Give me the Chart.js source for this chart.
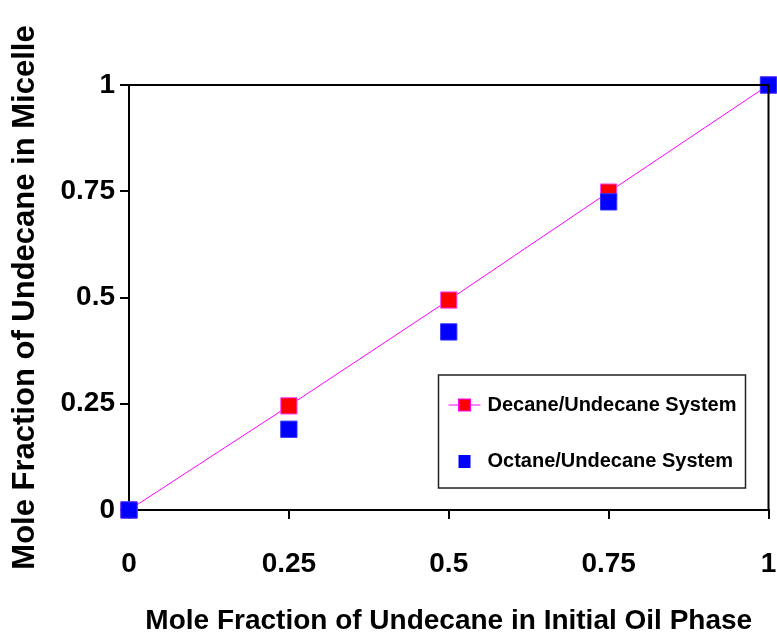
<!DOCTYPE html>
<html>
<head>
<meta charset="utf-8">
<script src="https://cdn.jsdelivr.net/npm/chart.js@4/dist/chart.umd.min.js"></script>
<style>
  html, body { margin: 0; padding: 0; background: #fff; overflow: hidden; }
  #wrap { width: 781px; height: 636px; }
</style>
</head>
<body>
<div id="wrap"><canvas id="chart"></canvas></div>
<script>
// data
const xValues = [0, 0.25, 0.5, 0.75, 1];
const decaneValues = [0, 0.245, 0.494, 0.748, 1];
const octaneValues = [0, 0.19, 0.419, 0.725, 1];
const tickValues = [0, 0.25, 0.5, 0.75, 1];
const tickLabels = ['0', '0.25', '0.5', '0.75', '1'];
const seriesNames = ['Decane/Undecane System', 'Octane/Undecane System'];

const FONT = "'Liberation Sans', Arial, sans-serif";

function toPoints(ys) {
  return xValues.map((x, i) => ({ x: x, y: ys[i] }));
}

function tickLabel(value) {
  const i = tickValues.indexOf(value);
  return i >= 0 ? tickLabels[i] : '';
}

// top and right edge of the box + the inside legend
const frameAndLegend = {
  id: 'frameAndLegend',
  afterDraw(chart) {
    const ctx = chart.ctx;
    const a = chart.chartArea;
    ctx.save();
    ctx.strokeStyle = '#000';
    ctx.lineWidth = 2;
    ctx.beginPath();
    ctx.moveTo(a.left - 9, a.top);
    ctx.lineTo(a.right, a.top);
    ctx.lineTo(a.right, a.bottom);
    ctx.stroke();

    // legend box
    const lx = a.right - 330, ly = a.bottom - 135, lw = 307, lh = 113;
    ctx.lineWidth = 1.5;
    ctx.strokeStyle = '#222';
    ctx.strokeRect(lx, ly, lw, lh);

    const row1 = ly + 30, row2 = ly + 86;
    const sx = lx + 26;
    ctx.strokeStyle = '#ff00ff';
    ctx.lineWidth = 1;
    ctx.beginPath();
    ctx.moveTo(lx + 10, row1);
    ctx.lineTo(lx + 42, row1);
    ctx.stroke();
    ctx.fillStyle = '#ff0000';
    ctx.fillRect(sx - 6, row1 - 6, 12, 12);
    ctx.strokeRect(sx - 6, row1 - 6, 12, 12);
    ctx.fillStyle = '#0000ff';
    ctx.fillRect(sx - 6, row2 - 6, 12, 13);

    ctx.fillStyle = '#000';
    ctx.font = 'bold 20px ' + FONT;
    ctx.textBaseline = 'middle';
    ctx.textAlign = 'left';
    ctx.fillText(seriesNames[0], lx + 49, row1);
    ctx.fillText(seriesNames[1], lx + 49, row2);
    ctx.restore();
  }
};

const ctx = document.getElementById('chart');

const chart = new Chart(ctx, {
  type: 'scatter',
  data: {
    datasets: [{
      label: seriesNames[0],
      data: toPoints(decaneValues),
      showLine: true,
      borderColor: '#ff00ff',
      borderWidth: 1,
      pointStyle: 'rect',
      pointRadius: 11.5,
      pointBackgroundColor: '#ff0000',
      pointBorderColor: '#ff44ff',
      pointBorderWidth: 1,
      clip: false,
      order: 2
    }, {
      label: seriesNames[1],
      data: toPoints(octaneValues),
      showLine: false,
      pointStyle: 'rect',
      pointRadius: 11.5,
      pointBackgroundColor: '#0000ff',
      pointBorderColor: '#3333ff',
      pointBorderWidth: 1,
      clip: false,
      order: 1
    }]
  },
  options: {
    responsive: true,
    maintainAspectRatio: false,
    animation: false,
    layout: { padding: { top: 85, right: 5, left: 0, bottom: 0 } },
    plugins: {
      legend: { display: false },
      tooltip: { enabled: false }
    },
    scales: {
      x: {
        type: 'linear',
        min: 0,
        max: 1,
        afterFit(scale) {
          scale.height = 126;
          scale.paddingLeft = 0;
          scale.paddingRight = 0;
        },
        afterBuildTicks(scale) { scale.ticks = tickValues.map(v => ({ value: v })); },
        grid: { drawOnChartArea: false, drawTicks: true, tickLength: 9, color: '#000', lineWidth: 2 },
        border: { display: true, color: '#000', width: 2 },
        ticks: {
          color: '#000',
          font: { family: FONT, size: 28, weight: 'bold' },
          padding: 28,
          maxRotation: 0,
          callback: tickLabel
        },
        title: {
          display: true,
          text: 'Mole Fraction of Undecane in Initial Oil Phase',
          color: '#000',
          font: { family: FONT, size: 28, weight: 'bold', lineHeight: 1 },
          padding: { top: 0, bottom: 1 }
        }
      },
      y: {
        type: 'linear',
        min: 0,
        max: 1,
        afterFit(scale) { scale.width = 129; },
        afterBuildTicks(scale) { scale.ticks = tickValues.map(v => ({ value: v })); },
        grid: { drawOnChartArea: false, drawTicks: true, tickLength: 9, color: '#000', lineWidth: 2 },
        border: { display: true, color: '#000', width: 2 },
        ticks: {
          color: '#000',
          font: { family: FONT, size: 28, weight: 'bold' },
          padding: 5,
          callback: tickLabel
        },
        title: {
          display: true,
          text: 'Mole Fraction of Undecane in Micelle',
          color: '#000',
          font: { family: FONT, size: 31, weight: 'bold', lineHeight: 1 },
          padding: { top: 10, bottom: 0 }
        }
      }
    }
  },
  plugins: [frameAndLegend]
});
</script>
</body>
</html>
